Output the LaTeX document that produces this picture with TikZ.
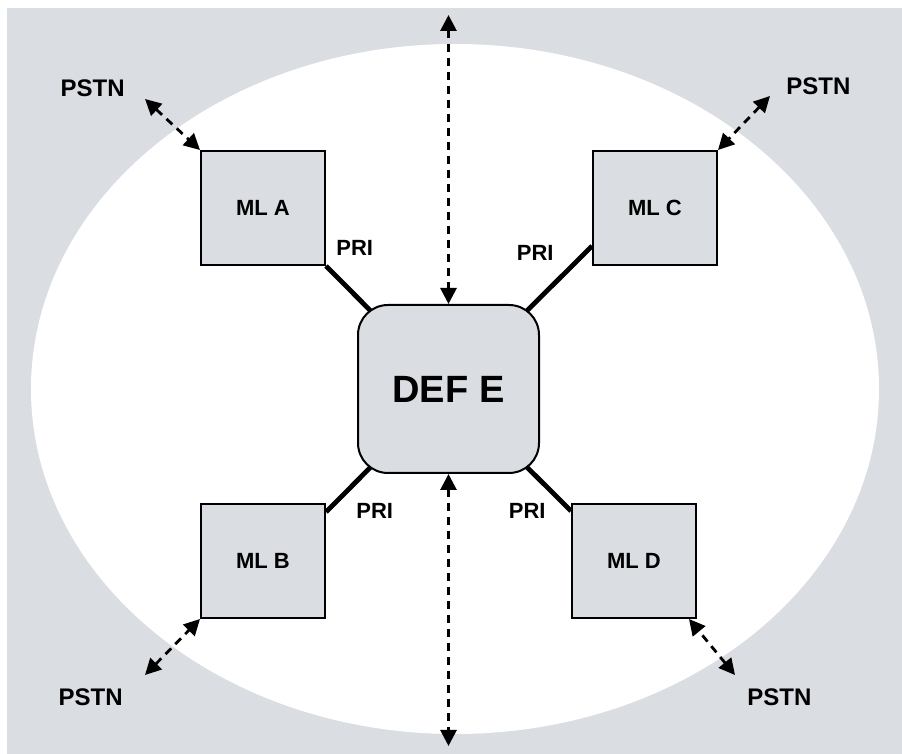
\documentclass[tikz,border=0pt]{standalone}
\usepackage{fontspec}
\setmainfont{Liberation Sans}
\usetikzlibrary{positioning,arrows.meta,backgrounds}

\definecolor{panelgray}{RGB}{218,221,226}

\tikzset{
  mlbox/.style={draw, line width=1pt, fill=panelgray, minimum width=62pt, minimum height=57pt, inner sep=0pt, font=\fontsize{11}{13}\selectfont\bfseries},
  hub/.style={draw, line width=1pt, fill=panelgray, rounded corners=15pt, minimum width=90.5pt, minimum height=84pt, font=\fontsize{19}{22}\selectfont\bfseries},
  prilabel/.style={inner sep=0pt, font=\fontsize{11}{13}\selectfont\bfseries},
  pstnlabel/.style={inner sep=0pt, font=\fontsize{12}{14}\selectfont\bfseries},
  trunk/.style={line width=2.4pt},
  link/.style={line width=1.4pt, dash pattern=on 4pt off 3pt, {Triangle[length=8pt,width=8pt]}-{Triangle[length=8pt,width=8pt]}},
}

\begin{document}
\begin{tikzpicture}[x=0.5pt, y=-0.5pt]
        \useasboundingbox (0,0) rectangle (902,754);

        \node [hub] (def) at (448.5,389) {DEF E};
        \node [mlbox, above left=19pt and 15.5pt of def] (mla) {ML A};
        \node [mlbox, above right=19pt and 26pt of def] (mlc) {ML C};
        \node [mlbox, below left=14.5pt and 15.5pt of def] (mlb) {ML B};
        \node [mlbox, below right=14.5pt and 15.5pt of def] (mld) {ML D};

        \node [prilabel, above right=5pt and 5pt of mla.south east] (pria) {PRI};
        \node [prilabel, above left=2.5pt and 19pt of mlc.south west] (pric) {PRI};
        \node [prilabel, below right=0pt and 15pt of mlb.north east] (prib) {PRI};
        \node [prilabel, below left=0pt and 12.5pt of mld.north west] (prid) {PRI};

        \coordinate [above=144.5pt of def.north] (topend);
        \coordinate [below=136pt of def.south] (botend);
        \coordinate [above left=25.5pt and 27.5pt of mla.north west] (enda);
        \coordinate [above right=27pt and 26pt of mlc.north east] (endc);
        \coordinate [below left=28pt and 27.5pt of mlb.south west] (endb);
        \coordinate [xshift=-4pt] (cornd) at (mld.south east);
        \coordinate [below right=28pt and 23pt of cornd] (endd);

        \node [pstnlabel, above left=1pt and 10pt of enda] (pstna) {PSTN};
        \node [pstnlabel, above right=0.5pt and 8pt of endc] (pstnc) {PSTN};
        \node [pstnlabel, below left=6.5pt and 11pt of endb] (pstnb) {PSTN};
        \node [pstnlabel, below right=6.5pt and 6pt of endd] (pstnd) {PSTN};

        \draw [link] (topend) -- (def.north);
        \draw [link] (def.south) -- (botend);
        \draw [link] (enda) -- (mla.north west);
        \draw [link] (endc) -- (mlc.north east);
        \draw [link] (endb) -- (mlb.south west);
        \draw [link] (endd) -- (cornd);

        \begin{scope}[on background layer]
          \fill [panelgray] (7,8) rectangle (902,754);
          \fill [white] (455,389) ellipse [x radius=212pt, y radius=172.5pt];
          \draw [trunk] (mla.south east) -- (def.center);
          \draw [trunk] ([yshift=10pt]mlc.south west) -- (def.center);
          \draw [trunk] ([yshift=-4.5pt]mlb.north east) -- (def.center);
          \draw [trunk] ([yshift=-4pt]mld.north west) -- (def.center);
        \end{scope}
      \end{tikzpicture}
\end{document}
